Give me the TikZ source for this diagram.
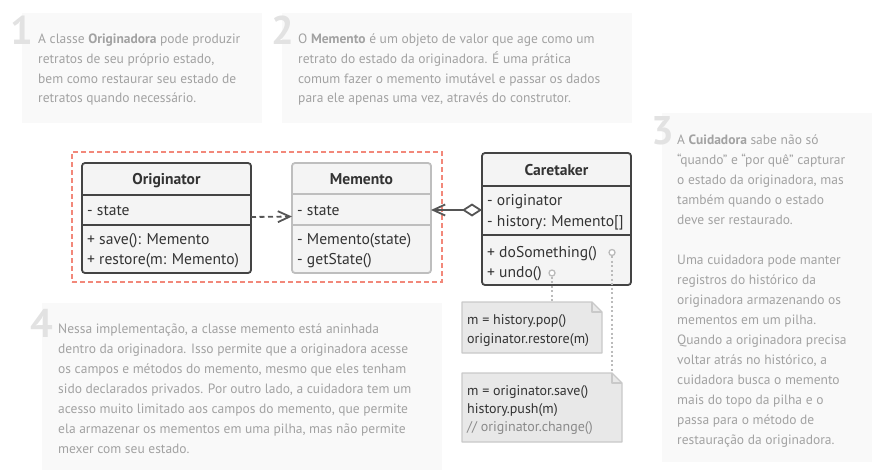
\documentclass[tikz,border=0pt]{standalone}
\usepackage{fontspec}
\setmainfont{PT Sans}
\usetikzlibrary{arrows.meta}
\definecolor{panelbg}{HTML}{F9F9F9}
\definecolor{numgray}{HTML}{E2E2E2}
\definecolor{bodygray}{HTML}{A2A2A2}
\definecolor{umldark}{HTML}{444444}
\definecolor{umltxt}{HTML}{333333}
\definecolor{memgray}{HTML}{BEBEBE}
\definecolor{boxfill}{HTML}{F4F4F4}
\definecolor{notefill}{HTML}{E8E8E8}
\definecolor{noteline}{HTML}{C9C9C9}
\definecolor{salmon}{HTML}{F2887A}
\definecolor{arrowgray}{HTML}{555555}
\definecolor{dotgray}{HTML}{BBBBBB}
\definecolor{commentgray}{HTML}{8A8A8A}
\begin{document}
\begin{tikzpicture}[x=1pt,y=-1pt,
  panel/.style={fill=panelbg, draw=none, inner sep=0, outer sep=0},
  bignum/.style={font=\fontsize{40}{40}\selectfont\bfseries, text=numgray, anchor=base west, inner sep=0},
  body/.style={font=\fontsize{13.5}{20}\selectfont, text=bodygray, anchor=base west, inner sep=0},
  classbox/.style={draw=umldark, fill=boxfill, line width=1.8pt, rounded corners=3pt, inner sep=0},
  membox/.style={draw=memgray, fill=boxfill, line width=1.8pt, rounded corners=3pt, inner sep=0},
  rowbox/.style={draw=none, inner sep=0, outer sep=0},
  title/.style={font=\fontsize{15.6}{18}\selectfont\bfseries, text=umltxt, anchor=base, inner sep=0},
  member/.style={font=\fontsize{15.6}{18}\selectfont, text=umltxt, anchor=base west, inner sep=0},
  notetxt/.style={font=\fontsize{14}{16}\selectfont, text=umltxt, anchor=base west, inner sep=0},
  nestbox/.style={draw=salmon, line width=1.4pt, dash pattern=on 5pt off 3pt, inner sep=0},
  dep/.style={draw=arrowgray, line width=1.8pt, dash pattern=on 5pt off 3.5pt, -{Straight Barb[length=12pt,width=11pt,line width=1.8pt]}},
  aggr/.style={draw=arrowgray, line width=1.8pt, {Diamond[open,length=20pt,width=13pt,line width=1.8pt]}-{Straight Barb[length=12pt,width=11pt,line width=1.8pt]}},
  hole/.style={circle, draw=dotgray, line width=1.3pt, minimum size=6pt, inner sep=0, fill=white},
  dotline/.style={draw=dotgray, line width=1.6pt, dash pattern=on 2pt off 2.5pt},
  noteshape/.style={fill=notefill, draw=noteline, line width=1.3pt, line join=round},
  notebox/.style={draw=none, inner sep=0, outer sep=0}
]
\useasboundingbox (0,0) rectangle (887,471);

% ---- panels ----
\node[panel, minimum width=240pt, minimum height=110pt] (p1) at (142,68) {};
\node[panel, minimum width=350pt, minimum height=110pt] (p2) at (457,68) {};
\node[panel, minimum width=210pt, minimum height=349pt] (p3) at (767,287.5) {};
\node[panel, minimum width=400pt, minimum height=167pt] (p4) at (242,386.5) {};

\node[bignum] (n1) at (10,44) {1};
\node[bignum] (n2) at (271,44) {2};
\node[bignum] (n3) at (651,144) {3};
\node[bignum] (n4) at (30,337) {4};

\node[body] (t1a) at (38,43.5) {A classe \textbf{Originadora} pode produzir};
\node[body] (t1b) at (38,63.3) {retratos de seu próprio estado,};
\node[body] (t1c) at (38,83.1) {bem como restaurar seu estado de};
\node[body] (t1d) at (38,102.9) {retratos quando necessário.};

\node[body] (t2a) at (298,43.5) {O \textbf{Memento} é um objeto de valor que age como um};
\node[body] (t2b) at (298,63.3) {retrato do estado da originadora. É uma prática};
\node[body] (t2c) at (298,83.1) {comum fazer o memento imutável e passar os dados};
\node[body] (t2d) at (298,102.9) {para ele apenas uma vez, através do construtor.};

\node[body] (t3a) at (677,144) {A \textbf{Cuidadora} sabe não só};
\node[body] (t3b) at (677,164) {“quando” e “por quê” capturar};
\node[body] (t3c) at (677,184) {o estado da originadora, mas};
\node[body] (t3d) at (677,204) {também quando o estado};
\node[body] (t3e) at (677,224) {deve ser restaurado.};
\node[body] (t3f) at (677,264) {Uma cuidadora pode manter};
\node[body] (t3g) at (677,284) {registros do histórico da};
\node[body] (t3h) at (677,304) {originadora armazenando os};
\node[body] (t3i) at (677,324) {mementos em um pilha.};
\node[body] (t3j) at (677,344) {Quando a originadora precisa};
\node[body] (t3k) at (677,364) {voltar atrás no histórico, a};
\node[body] (t3l) at (677,384) {cuidadora busca o memento};
\node[body] (t3m) at (677,404) {mais do topo da pilha e o};
\node[body] (t3n) at (677,424) {passa para o método de};
\node[body] (t3o) at (677,444) {restauração da originadora.};

\node[body] (t4a) at (58,333) {Nessa implementação, a classe memento está aninhada};
\node[body] (t4b) at (58,353) {dentro da originadora. Isso permite que a originadora acesse};
\node[body] (t4c) at (58,373) {os campos e métodos do memento, mesmo que eles tenham};
\node[body] (t4d) at (58,393) {sido declarados privados. Por outro lado, a cuidadora tem um};
\node[body] (t4e) at (58,413) {acesso muito limitado aos campos do memento, que permite};
\node[body] (t4f) at (58,433) {ela armazenar os mementos em uma pilha, mas não permite};
\node[body] (t4g) at (58,453) {mexer com seu estado.};

% ---- nesting box ----
\node[nestbox, minimum width=370pt, minimum height=130pt] (nest) at (257,217) {};

% ---- Originator ----
\node[classbox, minimum width=169pt, minimum height=110pt] (orig) at (166.5,218) {};
\node[rowbox, minimum width=169pt, minimum height=30pt] (origattr) at (166.5,210) {};
\draw[umldark, line width=1.8pt] (origattr.north west) -- (origattr.north east);
\draw[umldark, line width=1.8pt] (origattr.south west) -- (origattr.south east);
\node[title] (origt) at (166.5,184.5) {Originator};
\node[member] (origm1) at (87,215.5) {- state};
\node[member] (origm2) at (87,244.5) {+ save(): Memento};
\node[member] (origm3) at (87,264) {+ restore(m: Memento)};

% ---- Memento ----
\node[membox, minimum width=139pt, minimum height=110pt] (mem) at (361.5,218) {};
\node[rowbox, minimum width=139pt, minimum height=31pt] (memattr) at (361.5,209.5) {};
\draw[memgray, line width=1.8pt] (memattr.north west) -- (memattr.north east);
\draw[memgray, line width=1.8pt] (memattr.south west) -- (memattr.south east);
\node[title] (memt) at (361.5,184.5) {Memento};
\node[member] (memm1) at (297,215.5) {- state};
\node[member] (memm2) at (297,244.5) {- Memento(state)};
\node[member] (memm3) at (297,264) {- getState()};

% ---- Caretaker ----
\node[classbox, minimum width=149pt, minimum height=132pt] (care) at (556.5,219) {};
\node[rowbox, minimum width=149pt, minimum height=49pt] (careattr) at (556.5,210.5) {};
\draw[umldark, line width=1.8pt] (careattr.north west) -- (careattr.north east);
\draw[umldark, line width=1.8pt] (careattr.south west) -- (careattr.south east);
\node[title] (caret) at (556.5,175) {Caretaker};
\node[member] (carem1) at (487,205.5) {- originator};
\node[member] (carem2) at (487,226.5) {- history: Memento[]};
\node[member] (carem3) at (487,257.5) {+ doSomething()};
\node[member] (carem4) at (487,277.5) {+ undo()};

% ---- connectors ----
\draw[dep] ([yshift=-7pt]origattr.east) -- ([yshift=-7pt]memattr.west);
\draw[aggr] ([yshift=0.5pt]careattr.west) -- ([yshift=0.5pt]careattr.west -| memattr.east);

% ---- notes ----
\node[notebox, minimum width=140pt, minimum height=51pt] (note1) at (532,327.5) {};
\node[notebox, minimum width=160pt, minimum height=69pt] (note2) at (542,407.5) {};
\foreach \nn in {note1,note2}{
  \draw[noteshape] (\nn.north west) -- ([xshift=-10pt]\nn.north east) -- ([yshift=-10pt]\nn.north east) -- (\nn.south east) -- (\nn.south west) -- cycle;
  \draw[noteshape, fill=none] ([xshift=-10pt]\nn.north east) -- ([xshift=-10pt,yshift=-10pt]\nn.north east) -- ([yshift=-10pt]\nn.north east);
}
\node[notetxt] (n1a) at (467,324.5) {m = history.pop()};
\node[notetxt] (n1b) at (467,343) {originator.restore(m)};
\node[notetxt] (n2a) at (467,395.5) {m = originator.save()};
\node[notetxt] (n2b) at (467,413.5) {history.push(m)};
\node[notetxt, text=commentgray] (n2c) at (467,431.5) {// originator.change()};

\node[hole] (undoc) at (552,273) {};
\node[hole] (doc) at (612,252.5) {};
\draw[dotline] (undoc.south) -- (undoc.south |- note1.north);
\draw[dotline] (doc.south) -- (doc.south |- note2.north);
\end{tikzpicture}
\end{document}
